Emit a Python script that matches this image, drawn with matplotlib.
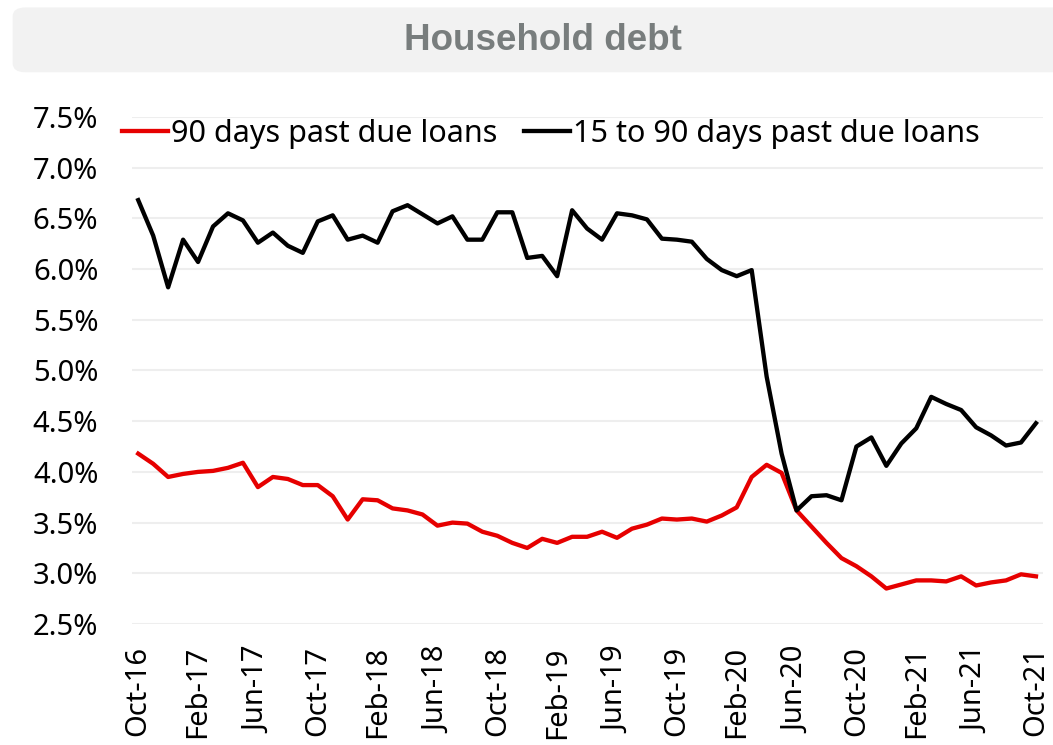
import matplotlib.pyplot as plt
from matplotlib.patches import FancyBboxPatch

# monthly, Oct-16 .. Oct-21
months = ['Oct-16', 'Nov-16', 'Dec-16', 'Jan-17', 'Feb-17', 'Mar-17', 'Apr-17', 'May-17', 'Jun-17',
          'Jul-17', 'Aug-17', 'Sep-17', 'Oct-17', 'Nov-17', 'Dec-17', 'Jan-18', 'Feb-18', 'Mar-18',
          'Apr-18', 'May-18', 'Jun-18', 'Jul-18', 'Aug-18', 'Sep-18', 'Oct-18', 'Nov-18', 'Dec-18',
          'Jan-19', 'Feb-19', 'Mar-19', 'Apr-19', 'May-19', 'Jun-19', 'Jul-19', 'Aug-19', 'Sep-19',
          'Oct-19', 'Nov-19', 'Dec-19', 'Jan-20', 'Feb-20', 'Mar-20', 'Apr-20', 'May-20', 'Jun-20',
          'Jul-20', 'Aug-20', 'Sep-20', 'Oct-20', 'Nov-20', 'Dec-20', 'Jan-21', 'Feb-21', 'Mar-21',
          'Apr-21', 'May-21', 'Jun-21', 'Jul-21', 'Aug-21', 'Sep-21', 'Oct-21']

past_due_90 = [4.18, 4.08, 3.95, 3.98, 4.00, 4.01, 4.04, 4.09, 3.85, 3.95,
               3.93, 3.87, 3.87, 3.76, 3.53, 3.73, 3.72, 3.64, 3.62, 3.58,
               3.47, 3.50, 3.49, 3.41, 3.37, 3.30, 3.25, 3.34, 3.30, 3.36,
               3.36, 3.41, 3.35, 3.44, 3.48, 3.54, 3.53, 3.54, 3.51, 3.57,
               3.65, 3.95, 4.07, 3.99, 3.62, 3.46, 3.30, 3.15, 3.07, 2.97,
               2.85, 2.89, 2.93, 2.93, 2.92, 2.97, 2.88, 2.91, 2.93, 2.99,
               2.97]

past_due_15_90 = [6.68, 6.33, 5.82, 6.29, 6.07, 6.42, 6.55, 6.48, 6.26, 6.36,
                  6.23, 6.16, 6.47, 6.53, 6.29, 6.33, 6.26, 6.57, 6.63, 6.54,
                  6.45, 6.52, 6.29, 6.29, 6.56, 6.56, 6.11, 6.13, 5.93, 6.58,
                  6.40, 6.29, 6.55, 6.53, 6.49, 6.30, 6.29, 6.27, 6.10, 5.99,
                  5.93, 5.99, 4.94, 4.18, 3.62, 3.76, 3.77, 3.72, 4.25, 4.34,
                  4.06, 4.28, 4.43, 4.74, 4.67, 4.61, 4.44, 4.36, 4.26, 4.29,
                  4.48]

yticks = [2.5, 3.0, 3.5, 4.0, 4.5, 5.0, 5.5, 6.0, 6.5, 7.0, 7.5]

plt.rcParams['font.family'] = ['Noto Sans', 'DejaVu Sans']

fig = plt.figure(figsize=(10.53, 7.45), dpi=100)

# title banner
box = FancyBboxPatch((0.012, 0.903), 1.02, 0.087, boxstyle='round,pad=0,rounding_size=0.012',
                     transform=fig.transFigure, facecolor='#F2F2F2', edgecolor='none')
fig.patches.append(box)
fig.text(0.516, 0.945, 'Household debt', ha='center', va='center', fontsize=26.5,
         fontweight='bold', color='#787D7D', family='Liberation Sans')

ax = fig.add_axes([0.125, 0.1624, 0.8655, 0.6806])
x = list(range(len(months)))
ax.plot(x, past_due_90, color='#E60000', lw=3.1, label='90 days past due loans')
ax.plot(x, past_due_15_90, color='black', lw=3.1, label='15 to 90 days past due loans')

ax.set_ylim(2.5, 7.5)
ax.set_xlim(-0.44, len(months) - 1 + 0.47)
ax.set_yticks(yticks)
ax.set_yticklabels(['%.1f%%' % v for v in yticks], fontsize=21)
ax.set_xticks(x[::4])
ax.set_xticklabels(months[::4], rotation=90, fontsize=21)
ax.tick_params(axis='both', length=0, colors='black')
ax.tick_params(axis='y', pad=24)
ax.tick_params(axis='x', pad=16)
ax.grid(axis='y', color='#EEEEEE', lw=1.5)
ax.set_axisbelow(True)
for s in ax.spines.values():
    s.set_visible(False)

ax.legend(loc='upper left', bbox_to_anchor=(-0.024, 1.02), ncol=2, frameon=False, fontsize=22,
          handlelength=1.5, handletextpad=0.12, columnspacing=0.85, borderaxespad=0)

fig.savefig('out.png', dpi=100)
